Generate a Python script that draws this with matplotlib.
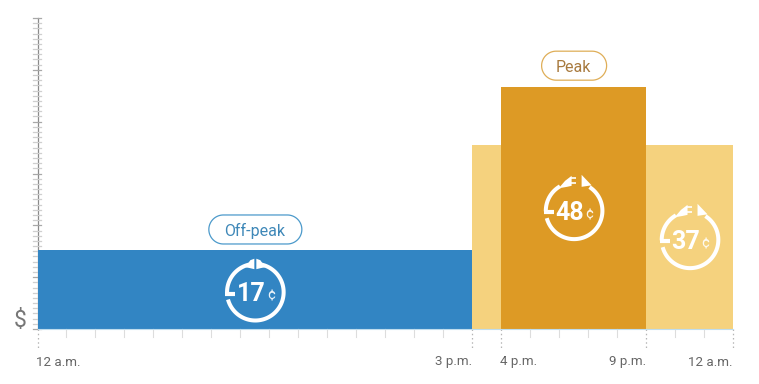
import numpy as np
import matplotlib
matplotlib.use("Agg")
import matplotlib.pyplot as plt
from matplotlib.patches import Polygon
from matplotlib.transforms import Affine2D

plt.rcParams['font.family'] = ['Roboto', 'DejaVu Sans']

# data
seg_start = [0, 15, 16, 21]
seg_end = [15, 16, 21, 24]
seg_height = [15.25, 35.5, 46.7, 35.5]
seg_color = ['#3285C3', '#F5D27E', '#DD9A25', '#F5D27E']
tick_hours = [0, 15, 16, 21, 24]
tick_labels = ['12 a.m.', '3 p.m.', '4 p.m.', '9 p.m.', '12 a.m.']
tick_align = ['left', 'right', 'left', 'right', 'right']
tick_nudge = [-1.5, 0, -1.5, 0, 0]
rate_labels = ['17', '48', '37']
rate_x = [7.5, 18.5, 22.5]
rate_y = [7.1, 22.8, 17.2]
rate_kind = ['off', 'on', 'on']
pill_labels = ['Off-peak', 'Peak']
pill_x = [7.5, 18.5]
pill_y = [19.2, 50.8]
pill_w = [93, 65]
pill_edge = ['#4C9ACB', '#DFAE58']
pill_text = ['#3F88B8', '#A87A3E']

W, H = 759, 384
fig = plt.figure(figsize=(W / 100, H / 100), dpi=100, facecolor='white')
L, R, T, B = 37.5, 733, 18, 329
ax = fig.add_axes([L / W, (H - B) / H, (R - L) / W, (B - T) / H])
ax.set_xlim(0, 24)
ax.set_ylim(0, 60)
ax.patch.set_alpha(0)
for s in ax.spines.values():
    s.set_visible(False)
ax.set_xticks([])
ax.set_yticks([])

for a, b, h, c in zip(seg_start, seg_end, seg_height, seg_color):
    ax.bar(a, h, width=b - a, align='edge', color=c, linewidth=0, zorder=2)

# y axis with ticks
ax.plot([0, 0], [0, 60], color='#8A8A8A', lw=0.9, clip_on=False, zorder=1)
ytrans = ax.get_yaxis_transform()
for v in range(0, 61):
    major = v % 10 == 0
    ax.plot([-4.5 / 695.5, 3.5 / 695.5], [v, v], transform=ytrans,
            color='#A8A8A8' if major else '#CFCFCF', lw=0.9, clip_on=False, zorder=1)

# x axis ticks
xtrans = ax.get_xaxis_transform()
ax.plot([0, 24], [0, 0], color='#BFDDEE', lw=0.8, clip_on=False, zorder=3)
for h in range(0, 25):
    if h in tick_hours:
        ax.plot([h, h], [0, -21 / 311], transform=xtrans, color='#B5B5B5', lw=0.9,
                ls=(0, (1.2, 2.2)), clip_on=False)
    else:
        ax.plot([h, h], [0, -8 / 311], transform=xtrans, color='#DDDDDD', lw=0.8, clip_on=False)
for h, t, al, n in zip(tick_hours, tick_labels, tick_align, tick_nudge):
    ax.text(h + n / 29, -33 / 311, t, transform=xtrans, ha=al, va='center', fontsize=9.6,
            color='#666666', clip_on=False)
ax.text(-17.5 / 29, 1.6, '$', ha='center', va='center', fontsize=16.5, color='#777777', clip_on=False)


def at(x, y):
    px, py = ax.transData.transform((x, y))
    return Affine2D().translate(px + 0.5, py)


def arc(t, a0, a1, r=28.3, lw=2.9):
    th = np.radians(np.linspace(a0, a1, 80))
    ax.plot(r * np.cos(th), r * np.sin(th), transform=t, color='white', lw=lw,
            solid_capstyle='butt', clip_on=False, zorder=5)


def poly(t, pts):
    ax.add_patch(Polygon(pts, closed=True, transform=t, facecolor='white', edgecolor='none',
                         clip_on=False, zorder=5))


def seg(t, x, y, lw=3.0):
    ax.plot(x, y, transform=t, color='white', lw=lw, solid_capstyle='butt', clip_on=False, zorder=5)


for label, x, y, kind in zip(rate_labels, rate_x, rate_y, rate_kind):
    t = at(x, y)
    if kind == 'off':
        arc(t, 181, 100)
        arc(t, 80, -165)
        poly(t, [(-10, 25), (-5, 32), (-1, 33.5), (-1, 23), (-5, 24)])
        poly(t, [(10, 25), (5, 32), (1, 33.5), (1, 23), (5, 24)])
    else:
        arc(t, 181, 120)
        arc(t, 57, -165)
        poly(t, [(-15.5, 22.5), (-9, 30), (-2.5, 35), (-2.5, 25), (-7, 24)])
        seg(t, [-3, 1.5], [32.5, 32.5], 1.2)
        seg(t, [-3, 1.5], [28, 28], 1.2)
        poly(t, [(7.5, 36), (7.5, 24), (17.5, 25.5)])
    seg(t, [-30.3, -20], [-1.5, -1.5])
    ax.annotate(label, (x, y), xytext=(-4, -2), textcoords='offset pixels', ha='center', va='center',
                fontsize=18, fontweight='bold', color='white', zorder=6)
    ax.annotate('¢', (x, y), xytext=(16, -3.5), textcoords='offset pixels', ha='center', va='center',
                fontsize=10.5, color='white', alpha=0.9, zorder=6)

for lab, x, y, w, ec, tc in zip(pill_labels, pill_x, pill_y, pill_w, pill_edge, pill_text):
    t = at(x, y)
    hh = 29
    th = np.radians(np.linspace(-90, 90, 40))
    rx = hh / 2 * np.cos(th)
    ry = hh / 2 * np.sin(th)
    px = np.concatenate([w / 2 - hh / 2 + rx, -(w / 2 - hh / 2) - rx[::1]])
    py = np.concatenate([ry, ry[::-1]])
    ax.add_patch(Polygon(np.column_stack([px, py]), closed=True, transform=t,
                         facecolor='white', edgecolor=ec, lw=0.9, clip_on=False, zorder=4))
    ax.annotate(lab, (x, y), xytext=(0, -6.5), textcoords='offset pixels', ha='center', va='baseline',
                fontsize=11.5, color=tc, zorder=5)

fig.savefig('out.png', dpi=100)
